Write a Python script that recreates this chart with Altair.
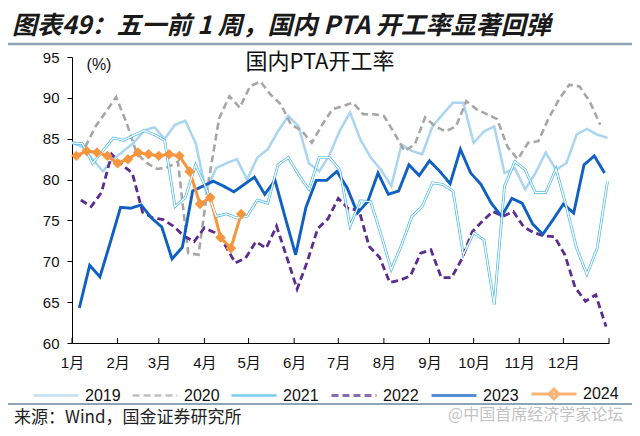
import altair as alt
import pandas as pd

years = ["2019", "2020", "2021", "2022", "2023", "2024"]
first_week = ["2019-01-01", "2020-01-10", "2021-01-01", "2022-01-07", "2023-01-06", "2024-01-04"]

v2019 = [84.5, 84.0, 82.5, 81.0, 82.5, 83.5, 84.5, 86.0, 86.4, 85.0, 86.7, 87.2, 84.5, 78.6, 81.4, 82.0, 82.5,
         80.0, 82.7, 83.7, 85.9, 87.8, 86.5, 82.0, 81.0, 83.0, 86.0, 88.2, 84.9, 82.7, 81.2, 79.2, 84.3, 83.5,
         83.1, 86.5, 88.0, 89.4, 89.4, 84.5, 85.9, 86.5, 80.8, 81.4, 78.8, 80.8, 83.3, 81.2, 82.0, 85.5, 86.2,
         85.5, 85.1]
v2020 = [84.0, 86.5, 88.3, 90.1, 87.0, 83.2, 82.0, 81.3, 81.5, 82.2, 71.0, 70.8, 80.0, 87.5, 90.2, 88.8, 91.4,
         92.0, 90.4, 89.2, 86.7, 86.0, 84.5, 86.7, 88.6, 89.0, 89.4, 88.0, 88.0, 87.8, 85.7, 83.5, 84.3, 87.6,
         86.5, 85.9, 86.5, 89.6, 88.6, 88.0, 87.4, 84.0, 82.5, 84.5, 84.7, 87.5, 89.8, 91.6, 91.4, 89.5, 86.7]
v2021 = [84.5, 84.4, 82.0, 83.5, 85.1, 84.8, 85.4, 86.0, 85.5, 84.8, 76.7, 77.8, 81.8, 79.0, 75.5, 75.8, 75.3,
         75.5, 77.5, 77.1, 81.8, 82.7, 80.6, 78.8, 82.7, 82.7, 81.2, 74.3, 77.4, 77.3, 73.3, 69.0, 72.0, 75.5,
         76.7, 79.6, 79.4, 78.6, 70.8, 73.5, 72.6, 64.7, 79.2, 82.2, 81.2, 78.4, 78.4, 81.3, 76.7, 71.6, 68.4,
         71.6, 79.8]
v2022 = [77.5, 76.7, 78.4, 83.1, 81.8, 80.8, 76.0, 75.3, 75.1, 74.3, 73.1, 72.4, 74.1, 73.5, 72.0, 69.8, 70.4,
         72.4, 71.6, 74.3, 70.5, 66.6, 70.0, 74.0, 75.2, 77.7, 76.4, 76.3, 71.8, 70.5, 67.4, 67.7, 68.2, 71.0,
         71.4, 68.0, 68.0, 70.3, 73.6, 74.9, 76.1, 75.5, 76.1, 74.2, 73.5, 73.1, 73.0, 70.8, 66.8, 65.1, 65.9,
         62.0]
v2023 = [64.3, 69.5, 68.1, 72.3, 76.6, 76.5, 76.9, 75.3, 74.2, 70.3, 71.7, 78.6, 79.2, 79.8, 79.2, 78.5, 79.4,
         80.3, 78.2, 79.9, 75.3, 70.8, 76.6, 79.9, 79.9, 81.0, 79.0, 75.9, 77.3, 80.8, 78.2, 78.6, 81.8, 80.5,
         82.3, 81.0, 79.5, 83.7, 80.8, 79.4, 77.1, 75.5, 77.7, 77.1, 74.6, 73.3, 75.1, 77.0, 75.9, 81.8, 82.9,
         80.8]
v2024 = [82.9, 83.5, 83.3, 82.9, 82.0, 82.5, 83.3, 83.1, 82.9, 83.1, 82.9, 81.0, 77.0, 77.8, 72.9, 71.6, 75.8]
series = [v2019, v2020, v2021, v2022, v2023, v2024]

month_labels = ["1月", "2月", "3月", "4月", "5月", "6月", "7月", "8月", "9月", "10月", "11月", "12月"]
month_start_days = [0, 31, 59, 90, 120, 151, 181, 212, 243, 273, 304, 334, 365]
y_ticks = [60, 65, 70, 75, 80, 85, 90, 95]

colors = ["#A9D4F2", "#A6A6A6", "#45B6EA", "#5B2D8E", "#1060C4", "#F7953F"]
dashes = [[1, 0], [7, 4], [1, 0], [7, 4], [1, 0], [1, 0]]
widths = [2.5, 3, 4.2, 2.8, 2.6, 3.5]
# legend glyphs: plain strokes, and a stroke with a diamond for 2024
legend_shapes = ["stroke", "stroke", "stroke", "stroke", "stroke",
                 "M-1,0L1,0M0,-0.22L0.22,0L0,0.22L-0.22,0Z"]

heading = "图表49：五一前 1 周，国内 PTA 开工率显著回弹"
inner_title = "国内PTA开工率"
unit = "(%)"
source = "来源：Wind，国金证券研究所"
watermark = "@中国首席经济学家论坛"

rows = []
for yr, start, vals in zip(years, first_week, series):
    d0 = pd.Timestamp(start)
    base0 = pd.Timestamp(f"{d0.year}-01-01")
    for i, v in enumerate(vals):
        rows.append({"year": yr, "day": (d0 - base0).days + 7 * i, "value": v})
df = pd.DataFrame(rows)

labels_js = "[" + ",".join(f"'{m}'" for m in month_labels + [""]) + "]"
days_js = "[" + ",".join(str(d) for d in month_start_days) + "]"
label_expr = f"{labels_js}[indexof({days_js}, datum.value)]"

xenc = alt.X("day:Q", scale=alt.Scale(domain=[0, 365], nice=False, zero=False),
             axis=alt.Axis(values=month_start_days, labelExpr=label_expr, title=None, tickSize=0,
                           labelPadding=12, labelFontSize=15, labelFont="Liberation Sans, Noto Sans CJK SC",
                           grid=False, labelFlush=False))
yenc = alt.Y("value:Q", scale=alt.Scale(domain=[60, 95], nice=False, zero=False),
             axis=alt.Axis(values=y_ticks, title=None, tickSize=5, labelPadding=8, labelFontSize=15,
                           labelFont="Liberation Sans", grid=False))

base = alt.Chart(df)

lines = base.mark_line().encode(
    x=xenc, y=yenc,
    color=alt.Color("year:N", scale=alt.Scale(domain=years, range=colors), legend=alt.Legend(title=None)),
    strokeDash=alt.StrokeDash("year:N", scale=alt.Scale(domain=years, range=dashes), legend=alt.Legend(title=None)),
    strokeWidth=alt.StrokeWidth("year:O", scale=alt.Scale(domain=years, range=widths), legend=None),
    order=alt.Order("day:Q"),
)

inner = base.transform_filter(alt.datum.year == "2021").mark_line(color="white", strokeWidth=1.3).encode(
    x="day:Q", y="value:Q")

markers = base.transform_filter(alt.datum.year == "2024").mark_point(
    shape="diamond", filled=True, size=110, color="#F7953F", opacity=1).encode(x="day:Q", y="value:Q")

# empty layer that only contributes the symbol shapes to the shared legend
legend_shape = base.transform_filter("datum.day < -1000").mark_point(filled=False).encode(
    x="day:Q", y="value:Q",
    shape=alt.Shape("year:N", scale=alt.Scale(domain=years, range=legend_shapes), legend=alt.Legend(title=None)),
)

tick_df = pd.DataFrame({"day": month_start_days})
xticks = alt.Chart(tick_df).mark_rule(color="black", strokeWidth=1).encode(
    x="day:Q", y=alt.value(286), y2=alt.value(281))


def text_layer(t, x, y, **kw):
    return alt.Chart(pd.DataFrame({"t": [t]})).mark_text(**kw).encode(
        text="t:N", x=alt.value(x), y=alt.value(y))


head = text_layer(heading, -60, -31, align="left", baseline="middle", fontSize=25, fontWeight="bold",
                  fontStyle="italic", font="Noto Sans CJK SC", color="#1A1A1A")
ititle = text_layer(inner_title, 248, 5, align="center", baseline="middle", fontSize=22,
                    font="Noto Sans CJK SC", color="#111111")
unit_t = text_layer(unit, 27, 8, align="center", baseline="middle", fontSize=16,
                    font="Liberation Sans", color="#111111")
src = text_layer(source, -58, 361, align="left", baseline="middle", fontSize=17,
                 font="Noto Sans CJK SC", color="#222222")
wm = text_layer(watermark, 376, 358, align="left", baseline="middle", fontSize=16,
                font="Noto Sans CJK SC", color="#9A9A9A", opacity=0.6)

top_rule = alt.Chart(pd.DataFrame({"a": [0]})).mark_rule(color="#8EA4B6", strokeWidth=2.5).encode(
    x=alt.value(-64), x2=alt.value(560), y=alt.value(-13))
bot_rule = alt.Chart(pd.DataFrame({"a": [0]})).mark_rule(color="#8EA4B6", strokeWidth=2).encode(
    x=alt.value(-64), x2=alt.value(560), y=alt.value(347))

chart = alt.layer(lines, inner, markers, legend_shape, xticks, head, ititle, unit_t, src, wm, top_rule,
                  bot_rule).properties(
    width=537, height=286,
    padding={"left": 64, "top": 49, "right": 23, "bottom": 85},
    autosize=alt.AutoSizeParams(type="none"),
).configure_view(stroke=None).configure_axis(
    domainColor="black", tickColor="black", labelColor="#111111", domainWidth=1
).configure_legend(
    orient="none", legendX=-40, legendY=313, direction="horizontal", columns=6,
    symbolType="stroke", symbolSize=2025, symbolStrokeWidth=3.5, labelFontSize=16,
    labelFont="Liberation Sans", labelColor="#111111", labelOffset=5, columnPadding=6, padding=0
)

chart.save("out.html", embed_options={"renderer": "svg", "actions": False})
